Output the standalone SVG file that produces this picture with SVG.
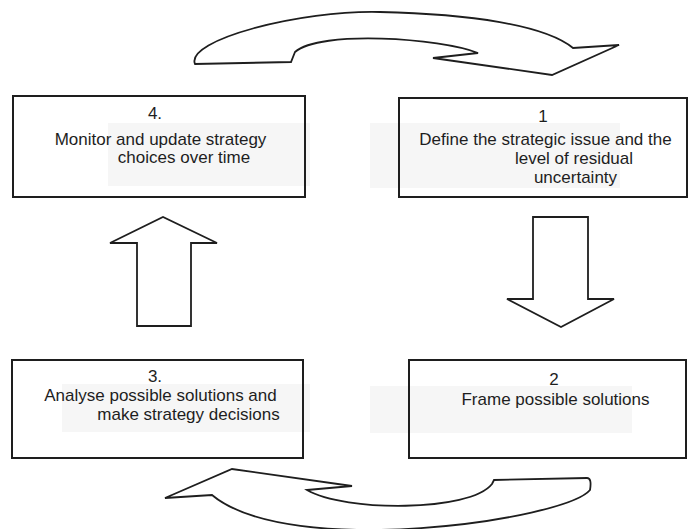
<svg xmlns="http://www.w3.org/2000/svg" width="690" height="529" viewBox="0 0 690 529">
  <style>
    .bg { fill: #ffffff; }
    .smudge { fill: #f6f6f6; }
    .box { fill: none; stroke: #1e1e1e; stroke-width: 2; }
    .arrow { fill: #ffffff; stroke: #1e1e1e; stroke-width: 1.8; stroke-linejoin: miter; }
    .lbl { font-family: "Liberation Sans", Arial, sans-serif; font-size: 17px; fill: #1e1e1e; text-anchor: middle; }
  </style>
  <rect class="bg" x="0" y="0" width="690" height="529"/>

  <g id="connectors">
    <path class="arrow" d="M 195,64 C 185,40 300,10 380,12 C 470,14 545,25 573,48 L 619,45 L 552,75 L 433,58 L 478,53 C 440,38 320,30 295,52 L 291,62 Z"/>
    <polygon class="arrow" points="533,217 588,217 588,299 614,299 561,327 507,299 533,299"/>
    <path class="arrow" d="M 165,498 L 232,469 L 352,486 L 307,490 C 345,512 470,512 492,484 L 494,480 L 587,478 Q 592,478 590,490 C 565,520 290,560 212,495 Z"/>
    <polygon class="arrow" points="137,326 137,243 110,243 163,217 217,243 191,243 191,326"/>
  </g>

  <g id="node4">
    <rect class="smudge" x="108" y="123" width="202" height="63"/>
    <rect class="box" x="13" y="96" width="292" height="101"/>
    <text class="lbl" x="155" y="119">4.</text>
    <text class="lbl" x="160.5" y="145">Monitor and update strategy</text>
    <text class="lbl" x="184" y="163">choices over time</text>
  </g>

  <g id="node1">
    <rect class="smudge" x="370" y="123" width="250" height="65"/>
    <rect class="box" x="399" y="98" width="288" height="99"/>
    <text class="lbl" x="543" y="122">1</text>
    <text class="lbl" x="545.5" y="145">Define the strategic issue and the</text>
    <text class="lbl" x="574" y="164">level of residual</text>
    <text class="lbl" x="575.5" y="183">uncertainty</text>
  </g>

  <g id="node3">
    <rect class="smudge" x="62" y="384" width="248" height="48"/>
    <rect class="box" x="12" y="360" width="291" height="98"/>
    <text class="lbl" x="155" y="382">3.</text>
    <text class="lbl" x="160.5" y="401">Analyse possible solutions and</text>
    <text class="lbl" x="188.5" y="420">make strategy decisions</text>
  </g>

  <g id="node2">
    <rect class="smudge" x="370" y="386" width="262" height="47"/>
    <rect class="box" x="409" y="360" width="277" height="98"/>
    <text class="lbl" x="554" y="385">2</text>
    <text class="lbl" x="555.5" y="405">Frame possible solutions</text>
  </g>
</svg>
